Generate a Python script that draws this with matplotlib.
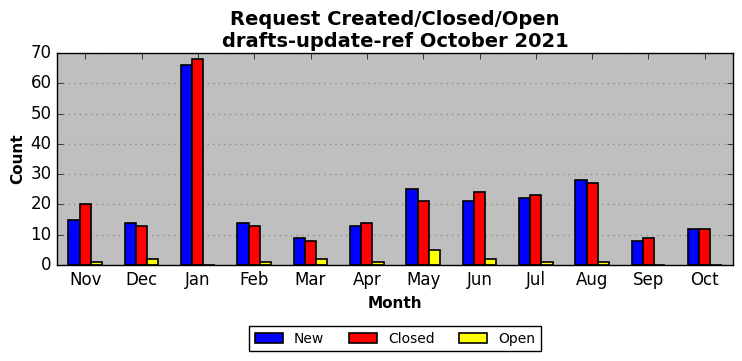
import matplotlib
matplotlib.use("Agg")
import matplotlib.pyplot as plt
import numpy as np

# data
months = ["Nov", "Dec", "Jan", "Feb", "Mar", "Apr", "May", "Jun", "Jul", "Aug", "Sep", "Oct"]
new = [15, 14, 66, 14, 9, 13, 25, 21, 22, 28, 8, 12]
closed = [20, 13, 68, 13, 8, 14, 21, 24, 23, 27, 9, 12]
open_ = [1, 2, 0, 1, 2, 1, 5, 2, 1, 1, 0, 0]

plt.style.use("classic")
plt.rcParams["font.family"] = ["DejaVu Sans"]

fig = plt.figure(figsize=(7.42, 3.61), dpi=100, facecolor="white")
ax = fig.add_axes([57 / 742, 1 - 265 / 361, 676 / 742, 212 / 361])
ax.set_facecolor("#bfbfbf")

x = np.arange(len(months))
w = 0.2
ax.bar(x - w, new, w, color="blue", edgecolor="black", linewidth=1.2, label="New", align="center")
ax.bar(x, closed, w, color="red", edgecolor="black", linewidth=1.2, label="Closed", align="center")
ax.bar(x + w, open_, w, color="yellow", edgecolor="black", linewidth=1.2, label="Open", align="center")

ax.set_xlim(-0.5, len(months) - 0.5)
ax.set_ylim(0, 70)
ax.set_xticks(x)
ax.set_xticklabels(months, fontsize=12)
ax.set_yticks(range(0, 71, 10))
ax.tick_params(axis="y", labelsize=12)
ax.yaxis.grid(True, linestyle=(0, (1, 3)), color="#8c8c8c", linewidth=1)
ax.xaxis.grid(False)
ax.set_axisbelow(True)

ax.set_xlabel("Month", fontsize=11, fontweight="bold")
ax.set_ylabel("Count", fontsize=11, fontweight="bold", labelpad=4)
ax.set_title("Request Created/Closed/Open\ndrafts-update-ref October 2021",
             fontsize=14, fontweight="bold", y=0.995)

ax.legend(loc="upper center", bbox_to_anchor=(0.5, -0.255), ncol=3, fontsize=10,
          fancybox=False, frameon=True, numpoints=1, columnspacing=1.8)

fig.savefig("out.png", dpi=100, facecolor="white")
